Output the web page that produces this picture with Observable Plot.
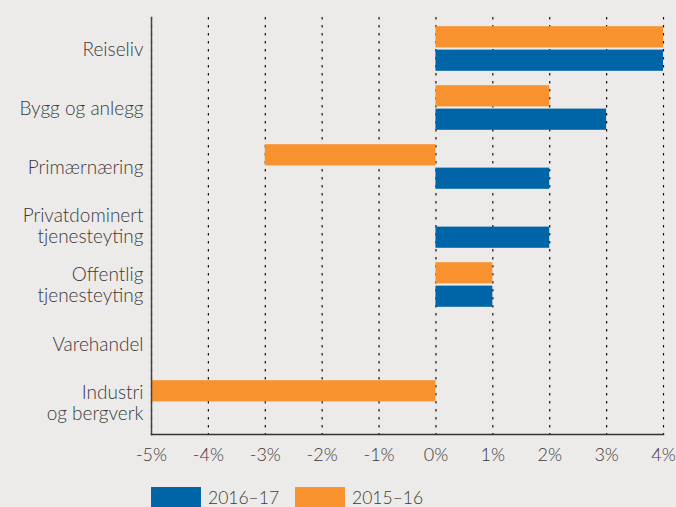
<!DOCTYPE html>
<html>
<head>
<meta charset="utf-8">
<script src="https://cdn.jsdelivr.net/npm/d3@7"></script>
<script src="https://cdn.jsdelivr.net/npm/@observablehq/plot@0.6"></script>
<style>
  html, body { margin: 0; padding: 0; background: #ecebe9; overflow: hidden; }
  #chart { width: 676px; height: 507px; position: relative; font-family: "Lato", sans-serif; font-weight: 300; }
  .legend { position: absolute; left: 151px; top: 487px; display: flex; align-items: flex-start; font-size: 17.5px; line-height: 19px; color: #3a3a3a; }
  .legend .sw { width: 50px; height: 20px; margin-right: 7px; }
  .legend .item { display: flex; align-items: flex-start; margin-right: 16px; }
  .legend .item span { padding-top: 1px; }
</style>
</head>
<body>
<div id="chart"></div>
<script>
const categories = ["Reiseliv", "Bygg og anlegg", "Primærnæring", "Privatdominert\ntjenesteyting", "Offentlig\ntjenesteyting", "Varehandel", "Industri\nog bergverk"];
const values2015_16 = [4, 2, -3, 0, 1, 0, -5];
const values2016_17 = [4, 3, 2, 2, 1, 0, 0];
const xTicks = [-5, -4, -3, -2, -1, 0, 1, 2, 3, 4];
const seriesNames = ["2016–17", "2015–16"];
const colors = {"2016–17": "#0065a6", "2015–16": "#f7922f"};

const d15 = categories.map((c, i) => ({cat: c, v: values2015_16[i]}));
const d16 = categories.map((c, i) => ({cat: c, v: values2016_17[i]}));

const plot = Plot.plot({
  width: 676,
  height: 470,
  marginLeft: 151,
  marginRight: 13,
  marginTop: 17,
  marginBottom: 36,
  style: {background: "#ecebe9", fontFamily: "Lato, sans-serif", fontWeight: 300, color: "#3a3a3a"},
  x: {domain: [-5, 4], ticks: xTicks, label: null},
  y: {domain: categories, padding: 0, label: null},
  marks: [
    Plot.ruleX(xTicks, {stroke: "#111", strokeWidth: 1.2, strokeDasharray: "2.5,5.5"}),
    Plot.barX(d15, {y: "cat", x1: 0, x2: "v", fill: colors["2015–16"], insetTop: 7.2, insetBottom: 30.6}),
    Plot.barX(d16, {y: "cat", x1: 0, x2: "v", fill: colors["2016–17"], insetTop: 30.6, insetBottom: 7.2}),
    Plot.axisX({ticks: xTicks, tickFormat: d => d + "%", tickSize: 0, tickPadding: 14, fontSize: 18, fill: "#3a3a3a", label: null}),
    Plot.axisY({tickSize: 0, tickPadding: 8, fontSize: 19, fill: "#3a3a3a", lineHeight: 1.12, label: null}),
    Plot.frame({anchor: "left", stroke: "#444", strokeWidth: 1.5}),
    Plot.frame({anchor: "bottom", stroke: "#333", strokeWidth: 1.5})
  ]
});
document.getElementById("chart").appendChild(plot);

const legend = document.createElement("div");
legend.className = "legend";
seriesNames.forEach(n => {
  const it = document.createElement("div");
  it.className = "item";
  const sw = document.createElement("div");
  sw.className = "sw";
  sw.style.background = colors[n];
  const t = document.createElement("span");
  t.textContent = n;
  it.appendChild(sw);
  it.appendChild(t);
  legend.appendChild(it);
});
document.getElementById("chart").appendChild(legend);
</script>
</body>
</html>
